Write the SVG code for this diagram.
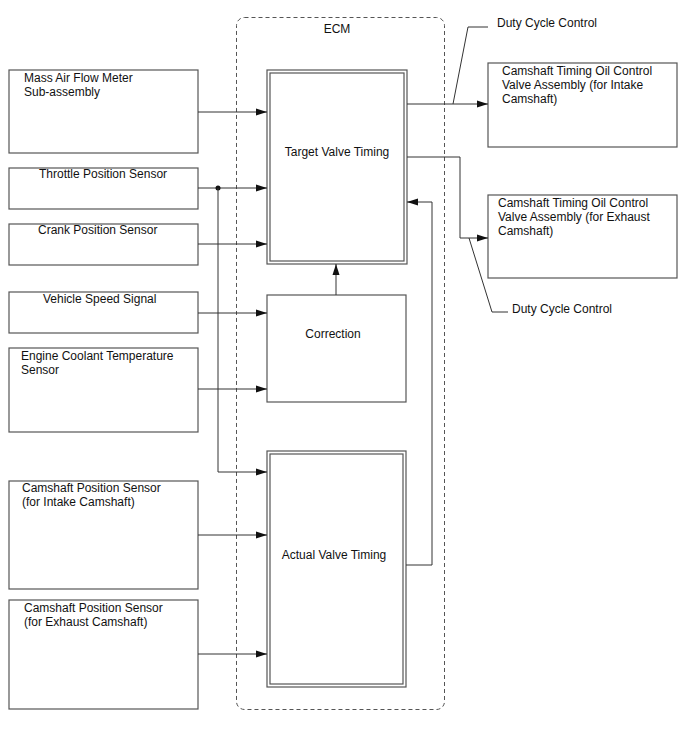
<svg xmlns="http://www.w3.org/2000/svg" width="688" height="755" viewBox="0 0 688 755">
<style>
  text { font-family: "Liberation Sans", Arial, sans-serif; font-size: 12px; fill: #111; }
  .box { fill: #fff; stroke: #555; stroke-width: 1.2; }
  .ln { fill: none; stroke: #333; stroke-width: 1; }
  .ecm { fill: none; stroke: #555; stroke-width: 1; stroke-dasharray: 4 3; }
</style>
<defs>
  <marker id="ah" markerWidth="12" markerHeight="8" refX="11" refY="4" orient="auto" markerUnits="userSpaceOnUse">
    <path d="M0,0.5 L11,4 L0,7.5 Z" fill="#111"/>
  </marker>
</defs>
<rect width="688" height="755" fill="#fff"/>

<g id="ecm">
  <rect class="ecm" x="236.5" y="17.5" width="208" height="692" rx="8" ry="8"/>
  <text x="337" y="33" text-anchor="middle">ECM</text>
</g>

<g id="maf">
  <rect class="box" x="9" y="70" width="189" height="83"/>
  <text x="24" y="82">Mass Air Flow Meter</text>
  <text x="24" y="96">Sub-assembly</text>
</g>
<g id="tps">
  <rect class="box" x="9" y="168" width="189" height="41"/>
  <text x="39" y="178">Throttle Position Sensor</text>
</g>
<g id="cps">
  <rect class="box" x="9" y="224" width="189" height="41"/>
  <text x="38" y="234">Crank Position Sensor</text>
</g>
<g id="vss">
  <rect class="box" x="9" y="292" width="189" height="41"/>
  <text x="43" y="303">Vehicle Speed Signal</text>
</g>
<g id="ect">
  <rect class="box" x="9" y="348" width="189" height="84"/>
  <text x="21" y="360">Engine Coolant Temperature</text>
  <text x="21" y="374">Sensor</text>
</g>
<g id="cam-in">
  <rect class="box" x="9" y="481" width="189" height="108"/>
  <text x="22" y="492">Camshaft Position Sensor</text>
  <text x="22" y="506">(for Intake Camshaft)</text>
</g>
<g id="cam-ex">
  <rect class="box" x="9" y="600" width="189" height="109"/>
  <text x="24" y="612">Camshaft Position Sensor</text>
  <text x="24" y="626">(for Exhaust Camshaft)</text>
</g>

<g id="target">
  <rect class="box" x="267" y="70" width="140" height="194"/>
  <rect class="box" x="270" y="73" width="134" height="188"/>
  <text x="337" y="156" text-anchor="middle">Target Valve Timing</text>
</g>
<g id="correction">
  <rect class="box" x="267" y="295" width="139" height="107"/>
  <text x="333" y="338" text-anchor="middle">Correction</text>
</g>
<g id="actual">
  <rect class="box" x="267" y="451" width="139" height="236"/>
  <rect class="box" x="270" y="454" width="133" height="230"/>
  <text x="334" y="559" text-anchor="middle">Actual Valve Timing</text>
</g>

<g id="ocv-in">
  <rect class="box" x="488" y="63" width="189" height="84"/>
  <text x="502" y="75">Camshaft Timing Oil Control</text>
  <text x="502" y="89">Valve Assembly (for Intake</text>
  <text x="502" y="103">Camshaft)</text>
</g>
<g id="ocv-ex">
  <rect class="box" x="488" y="195" width="189" height="83"/>
  <text x="498" y="207">Camshaft Timing Oil Control</text>
  <text x="498" y="221">Valve Assembly (for Exhaust</text>
  <text x="498" y="235">Camshaft)</text>
</g>

<g id="labels">
  <text x="497" y="27">Duty Cycle Control</text>
  <text x="512" y="313">Duty Cycle Control</text>
</g>

<g id="connectors">
  <line class="ln" x1="198" y1="112" x2="267" y2="112" marker-end="url(#ah)"/>
  <line class="ln" x1="198" y1="188" x2="267" y2="188" marker-end="url(#ah)"/>
  <circle cx="218" cy="188" r="2.5" fill="#111"/>
  <polyline class="ln" points="218,188 218,472 267,472" marker-end="url(#ah)"/>
  <line class="ln" x1="198" y1="244" x2="267" y2="244" marker-end="url(#ah)"/>
  <line class="ln" x1="198" y1="313" x2="267" y2="313" marker-end="url(#ah)"/>
  <line class="ln" x1="198" y1="389" x2="267" y2="389" marker-end="url(#ah)"/>
  <line class="ln" x1="198" y1="535" x2="267" y2="535" marker-end="url(#ah)"/>
  <line class="ln" x1="198" y1="654" x2="267" y2="654" marker-end="url(#ah)"/>
  <line class="ln" x1="336" y1="295" x2="336" y2="264" marker-end="url(#ah)"/>
  <polyline class="ln" points="406,565 432,565 432,202 407,202" marker-end="url(#ah)"/>
  <line class="ln" x1="407" y1="104" x2="488" y2="104" marker-end="url(#ah)"/>
  <polyline class="ln" points="407,157 460,157 460,238 488,238" marker-end="url(#ah)"/>
  <polyline class="ln" points="488,27 468,27 453,104"/>
  <polyline class="ln" points="508,312 492,312 469,238"/>
</g>
</svg>
